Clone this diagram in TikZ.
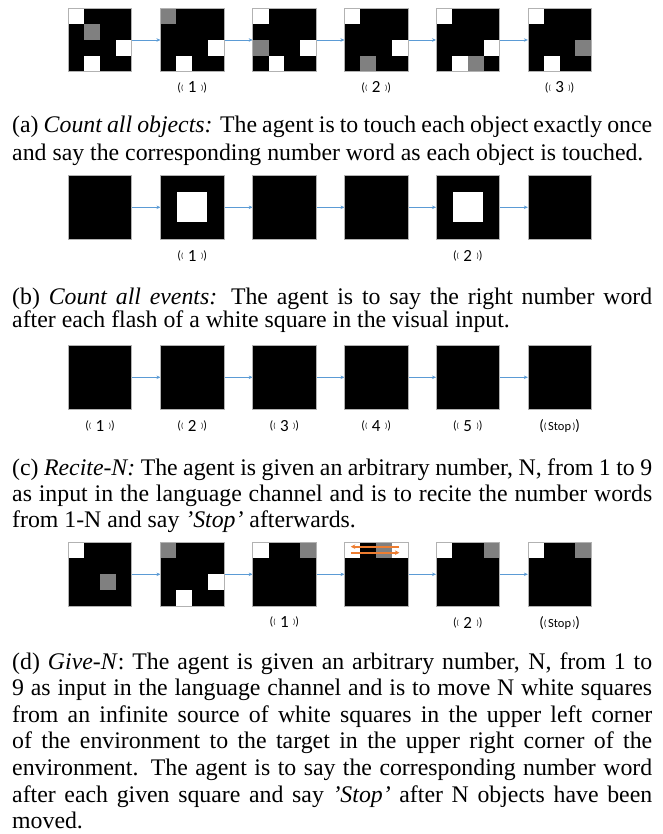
\documentclass[tikz,border=0pt]{standalone}
\usepackage{fontspec}
\setmainfont{Liberation Serif}
\newfontfamily\calibrifont{Carlito}
\usetikzlibrary{positioning, arrows.meta, calc}

\definecolor{officeblue}{HTML}{5B9BD5}
\definecolor{officeorange}{HTML}{ED7D31}
\definecolor{agentgray}{HTML}{808080}

% one cell of the 4x4 screen grid
\newcommand{\cellsize}{15.875}
\newcommand{\cell}[4]{\fill[#4] ($(#1.north west)+(#2*\cellsize,#3*\cellsize)$) rectangle ++(\cellsize,\cellsize);}
% spoken word marks
\newcommand{\spoken}[1]{{\calibrifont\raisebox{1.5pt}{\fontsize{12}{12}\selectfont(}\raisebox{2.5pt}{\fontsize{7.5}{7.5}\selectfont(}\hspace{4.5pt}{\fontsize{17}{17}\selectfont#1}\hspace{4.5pt}\raisebox{2.5pt}{\fontsize{7.5}{7.5}\selectfont)}\raisebox{1.5pt}{\fontsize{12}{12}\selectfont)}}}
\newcommand{\spokenstop}{{\calibrifont{\fontsize{15}{15}\selectfont(}\raisebox{1pt}{\fontsize{9}{9}\selectfont(}\hspace{1.5pt}{\fontsize{12.5}{12.5}\selectfont Stop}\hspace{1.5pt}\raisebox{1pt}{\fontsize{9}{9}\selectfont)}{\fontsize{15}{15}\selectfont)}}}

\begin{document}
\begin{tikzpicture}[
  x=1pt, y=-1pt,
  >=Stealth,
  screen/.style={fill=black, minimum size=63.5pt, inner sep=0pt, outer sep=0pt},
  frame/.style={draw=black!30, line width=0.7pt},
  flow/.style={->, draw=officeblue, line width=0.9pt, -{Stealth[length=4pt, width=3.5pt]}},
  move/.style={draw=officeorange, line width=1.6pt, -{Stealth[length=4.5pt, width=4.5pt]}},
  spoken/.style={inner sep=0pt, anchor=base},
  caption/.style={inner sep=0pt, anchor=base west, font=\fontsize{23.8}{26.6}\selectfont}
]
  \useasboundingbox (0,0) rectangle (662,834);

  % screens
  \foreach \r/\y in {a/40, b/207.3, c/377.3, d/574.3}
    \foreach \x [count=\i] in {100, 192.2, 284.4, 376.2, 467.8, 559.6}
      \node[screen] (\r\i) at (\x,\y) {};

  % time steps
  \foreach \r in {a, b, c, d}
    \foreach \i in {1,...,5} {
      \pgfmathtruncatemacro\j{\i+1}
      \draw[flow] (\r\i) -- (\r\j);
    }

  % (a) count all objects
  \cell{a1}{0}{0}{white} \cell{a1}{1}{1}{agentgray} \cell{a1}{3}{2}{white} \cell{a1}{1}{3}{white}
  \cell{a2}{0}{0}{agentgray} \cell{a2}{3}{2}{white} \cell{a2}{1}{3}{white}
  \cell{a3}{0}{0}{white} \cell{a3}{0}{2}{agentgray} \cell{a3}{3}{2}{white} \cell{a3}{1}{3}{white}
  \cell{a4}{0}{0}{white} \cell{a4}{3}{2}{white} \cell{a4}{1}{3}{agentgray}
  \cell{a5}{0}{0}{white} \cell{a5}{3}{2}{white} \cell{a5}{1}{3}{white} \cell{a5}{2}{3}{agentgray}
  \cell{a6}{0}{0}{white} \cell{a6}{3}{2}{agentgray} \cell{a6}{1}{3}{white}

  % (b) count all events
  \foreach \n in {b2, b5}
    \fill[white] ($(\n.center)+(-15,-15)$) rectangle ++(30,30);

  % (d) give-N
  \cell{d1}{0}{0}{white} \cell{d1}{2}{2}{agentgray}
  \cell{d2}{0}{0}{agentgray} \cell{d2}{3}{2}{white} \cell{d2}{1}{3}{white}
  \cell{d3}{0}{0}{white} \cell{d3}{3}{0}{agentgray}
  \cell{d4}{0}{0}{white} \cell{d4}{2}{0}{agentgray} \cell{d4}{3}{0}{white}
  \cell{d5}{0}{0}{white} \cell{d5}{3}{0}{agentgray}
  \cell{d6}{0}{0}{white} \cell{d6}{3}{0}{agentgray}
  \draw[move] ($(d4.center)+(23.2,-27.6)$) -- ($(d4.center)+(-25.4,-27.6)$);
  \draw[move] ($(d4.center)+(-25.4,-21.6)$) -- ($(d4.center)+(23.2,-21.6)$);

  % screen borders on top of the cells
  \foreach \r in {a, b, c, d}
    \foreach \i in {1,...,6}
      \draw[frame] (\r\i.north west) rectangle (\r\i.south east);

  % spoken words
  \node[spoken, below=21pt of a2, anchor=base] (a2say) {\spoken{1}};
  \node[spoken, below=21pt of a4, anchor=base] (a4say) {\spoken{2}};
  \node[spoken, below=21pt of a6, anchor=base] (a6say) {\spoken{3}};
  \node[spoken, below=22pt of b2, anchor=base] (b2say) {\spoken{1}};
  \node[spoken, below=22pt of b5, anchor=base] (b5say) {\spoken{2}};
  \foreach \i in {1,...,5}
    \node[spoken, below=22pt of c\i, anchor=base] (c\i say) {\spoken{\i}};
  \node[spoken, below=21pt of c6, anchor=base] (c6say) {\spokenstop};
  \node[spoken, below=21pt of d3, anchor=base] (d3say) {\spoken{1}};
  \node[spoken, below=22pt of d5, anchor=base] (d5say) {\spoken{2}};
  \node[spoken, below=21pt of d6, anchor=base] (d6say) {\spokenstop};

  % captions
  \node[caption] (capa) at (12,133) {\parbox[t]{640pt}{\fontsize{23.8}{27.5}\selectfont
    (a) \textit{Count all objects:} The agent is to touch each object exactly once\linebreak
    and say the corresponding number word as each object is touched.}};
  \node[caption] (capb) at (12,304) {\parbox[t]{640pt}{\fontsize{23.8}{23}\selectfont
    (b) \textit{Count all events:} The agent is to say the right number word\linebreak
    after each flash of a white square in the visual input.}};
  \node[caption] (capc) at (12,475) {\parbox[t]{640pt}{\fontsize{23.8}{26}\selectfont
    (c) \textit{Recite-N:} The agent is given an arbitrary number, N, from 1 to 9\linebreak
    as input in the language channel and is to recite the number words\linebreak
    from 1-N and say \textit{'Stop'} afterwards.}};
  \node[caption] (capd) at (12,669) {\parbox[t]{640pt}{\fontsize{23.8}{26.6}\selectfont
    (d) \textit{Give-N}: The agent is given an arbitrary number, N, from 1 to\linebreak
    9 as input in the language channel and is to move N white squares\linebreak
    from an infinite source of white squares in the upper left corner\linebreak
    of the environment to the target in the upper right corner of the\linebreak
    environment. The agent is to say the corresponding number word\linebreak
    after each given square and say \textit{'Stop'} after N objects have been\linebreak
    moved.}};
\end{tikzpicture}
\end{document}
